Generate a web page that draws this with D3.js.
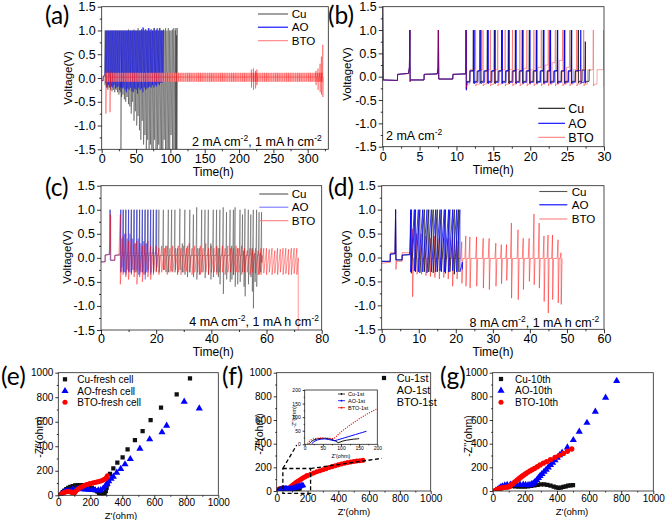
<!DOCTYPE html>
<html><head><meta charset="utf-8">
<script src="https://cdn.jsdelivr.net/npm/d3@7"></script>
<style>body{margin:0;background:#fff}svg{display:block}</style>
</head><body>
<script>
// ---------------- DATA ----------------
const seriesNames = ["Cu","AO","BTO"];
const vTicks = [-1.5,-1.0,-0.5,0,0.5,1.0,1.5];
const vMinor = [-1.25,-0.75,-0.25,0.25,0.75,1.25];
const zTicks = [0,200,400,600,800,1000];
const zMinor = [100,300,500,700,900];
const insetTicks = [0,50,100,150,200];

// (a) 2 mA cm-2, 1 mAh cm-2 : cycles [time h, upper V, lower V]
const aPre = [[0,-0.05],[2,-0.06],[2.3,0.04],[4.5,0.05]];
const aCu = [[5,1.0,-0.15],[7,1.0,-0.2],[9,1.0,-0.25],[11,1.0,-0.2],[13,1.0,-0.25],[15,1.0,-0.28],[17,1.0,-0.25],[19,1.0,-0.3],[21,1.0,-0.25],[23,1.0,-0.3],[25,1.0,-0.35],[27,1.0,-0.3],[28,0.1,-1.5],[29,1.0,-0.4],[31,1.0,-0.35],[33,1.0,-0.45],[35,1.0,-0.5],[37,1.0,-0.4],[39,1.02,-0.55],[41,1.0,-0.6],[43,1.0,-0.75],[45,1.0,-0.5],[47,1.02,-0.9],[49,1.0,-0.7],[51,1.0,-1.0],[53,1.05,-0.8],[55,1.0,-1.1],[57,1.0,-1.3],[59,1.0,-0.9],[61,1.05,-1.4],[63,1.0,-1.2],[65,1.0,-1.5],[67,1.0,-1.3],[69,1.05,-1.5],[71,1.0,-1.4],[73,1.0,-1.5],[75,1.0,-1.5],[77,1.05,-1.3],[79,1.0,-1.5],[81,1.05,-1.5],[83,1.0,-1.4],[85,1.05,-1.5],[87,1.0,-1.5],[89,1.0,-1.5],[91,1.0,-1.3],[93,1.05,-1.5],[95,1.0,-1.5],[97,1.05,-1.5],[99,1.0,-1.5],[101,1.0,-1.2],[103,1.02,-1.5],[105,1.05,-1.5],[107,1.0,-1.5],[108,1.05,-1.5],[109,0.9,-1.5],[110,1.05,-1.5]];
const aAO = [[6,1.0,-0.1],[8,1.0,-0.2],[10,1.0,-0.15],[12,1.0,-0.2],[14,1.0,-0.18],[16,1.0,-0.2],[18,1.0,-0.15],[20,1.0,-0.22],[22,1.0,-0.2],[24,1.0,-0.18],[26,1.0,-0.25],[28,1.0,-0.2],[30,1.0,-0.22],[32,1.0,-0.2],[34,1.0,-0.25],[36,1.0,-0.3],[38,1.0,-0.22],[40,1.0,-0.25],[42,1.0,-0.2],[44,1.0,-0.28],[46,1.0,-0.3],[48,1.0,-0.22],[50,1.0,-0.25],[52,1.0,-0.33],[54,1.0,-0.2],[56,1.0,-0.25],[58,1.03,-0.22],[60,1.07,-0.3],[62,1.0,-0.2],[64,1.03,-0.25],[66,1.0,-0.22],[68,1.05,-0.2],[70,1.0,-0.18],[72,1.03,-0.2],[74,1.0,-0.15],[76,1.05,-0.2],[78,1.0,-0.15],[80,1.02,-0.18],[82,1.0,-0.12],[84,1.05,-0.15],[86,1.0,-0.1],[88,1.0,-0.1],[90,1.02,-0.05]];
const aBTOBand = [[4.5,322,-0.08,0.11]]; // [start h, end h, lower V, upper V]
const aBTOBase = 0.02;
const aBTO = [[6,0.15,-0.75],[12,0.15,-0.72],[218,0.18,-0.2],[221,0.2,-0.25],[224,0.15,-0.22],[226,0.18,-0.15],[312,0.15,-0.15],[315,0.2,-0.25],[318,0.3,-0.3],[320,0.45,-0.35],[322,0.7,-0.4]];

// (b) 2 mA cm-2 : formation steps, then cycles [spike h, spike V, dip V, plateau-before V]
const bPre = [[0,1.55],[0.05,-0.07],[2.0,-0.08],[2.02,0.05],[3.5,0.07],[3.62,0.2],[3.68,1.0],[3.72,-0.1],[3.8,-0.07],[5.6,-0.07],[5.62,0.05],[7.4,0.06],[7.5,0.2],[7.55,1.0],[7.6,-0.05],[9.5,-0.05],[9.52,0.05],[11.2,0.06]];
const bPlateHours = 0.5;
const bLow = {Cu:-0.1, AO:-0.12, BTO:-0.16};
const bCu = [[11.3,1.0,-0.27,0.06],[12.29,1.0,-0.14,0.12],[13.19,1.0,-0.14,0.12],[14.19,1.0,-0.14,0.12],[15.14,1.0,-0.14,0.12],[16.13,1.0,-0.14,0.12],[17.04,1.0,-0.14,0.12],[17.99,1.0,-0.14,0.12],[18.93,1.0,-0.14,0.12],[19.88,1.0,-0.14,0.12],[20.83,1.0,-0.14,0.12],[21.78,1.0,-0.14,0.12],[22.68,1.0,-0.14,0.12],[23.68,1.0,-0.14,0.12],[24.62,1.0,-0.14,0.12],[25.57,1.0,-0.14,0.12],[26.52,1.0,-0.14,0.12],[27.47,0.75,-0.14,0.14]];
const bAO = [[11.32,1.0,-0.29,0.06],[12.4,1.0,-0.15,0.13],[13.32,1.0,-0.15,0.13],[14.3,1.0,-0.15,0.13],[15.25,1.0,-0.15,0.13],[16.22,1.0,-0.15,0.13],[17.15,1.0,-0.15,0.13],[18.08,1.0,-0.15,0.13],[19.02,1.0,-0.15,0.13],[19.96,1.0,-0.15,0.13],[20.9,1.0,-0.15,0.13],[21.85,1.0,-0.15,0.13],[22.76,1.0,-0.15,0.13],[23.72,1.0,-0.15,0.13],[24.68,1.0,-0.15,0.13],[25.62,1.0,-0.15,0.13],[26.85,1.0,-0.15,0.13]];
const bBTO = [[11.3,1.0,-0.25,0.06],[12.6,1.0,-0.2,0.15],[13.6,1.0,-0.2,0.15],[14.6,1.0,-0.2,0.15],[15.6,1.0,-0.2,0.15],[16.6,1.0,-0.2,0.15],[17.6,1.0,-0.2,0.15],[18.6,1.0,-0.2,0.15],[19.55,1.0,-0.2,0.18],[20.5,1.0,-0.2,0.15],[21.5,1.0,-0.2,0.2],[22.45,1.0,-0.2,0.25],[23.4,1.0,-0.2,0.3],[24.4,1.0,-0.2,0.35],[25.35,1.0,-0.2,0.2],[26.3,1.0,-0.2,0.15],[27.25,1.0,-0.2,0.15],[28.55,1.0,-0.2,0.15],[29.98,1.0,-0.2,0.15]];

// (c) 4 mA cm-2 : cycles [h, upper V, lower V]
const cPre = [[0,-0.08],[1.5,-0.08],[1.52,0.06],[3.0,0.07],[3.15,0.3],[3.3,1.0],[3.4,-0.05],[5.0,-0.05],[5.02,0.05],[6.5,0.06]];
const cPreBTO = [[0,-0.1],[1.5,-0.08],[1.52,0.06],[3.2,0.07],[3.4,0.3],[3.5,0.9],[3.6,-0.05],[5.0,-0.05],[5.02,0.05],[6.5,0.06]];
const cBase = {Cu:0.05, AO:0.1};
const cCu = [[7.2,1.0,-0.3],[8.1,1.0,-0.3],[9.0,1.0,-0.3],[10,1.0,-0.28],[11,1.0,-0.3],[12,1.0,-0.25],[13,1.0,-0.3],[14,1.0,-0.28],[15,1.0,-0.3],[16,1.0,-0.32],[17,1.0,-0.25],[18,1.0,-0.3],[19,1.0,-0.3],[20,1.0,-0.28],[21,1.0,-0.3],[22.6,1.0,-0.25],[23.5,0.25,-0.3],[24.4,1.0,-0.3],[25.6,1.0,-0.28],[26.8,1.0,-0.3],[27.7,0.2,-0.35],[28.6,1.02,-0.25],[29.5,0.3,-0.3],[30.4,1.0,-0.35],[31.3,0.25,-0.4],[32.2,1.0,-0.3],[33.5,0.9,-0.4],[34.7,1.05,-0.45],[35.6,0.2,-0.35],[36.5,1.0,-0.3],[37.7,1.0,-0.42],[38.9,1.0,-0.35],[39.8,0.3,-0.45],[40.7,1.0,-0.4],[41.9,1.0,-0.3],[42.5,0.2,-0.4],[43.1,1.0,-0.55],[44.3,1.05,-0.75],[45.5,0.95,-0.45],[46.8,1.0,-0.5],[47.4,0.25,-0.45],[48.0,1.0,-0.35],[48.6,1.05,-0.6],[49.5,0.2,-0.55],[50.4,1.0,-0.5],[51.3,0.9,-0.3],[51.8,0.15,-0.6],[52.2,1.02,-0.8],[53.4,1.0,-0.55],[54.3,0.9,-0.4],[54.8,0.2,-0.7],[55.2,1.0,-1.05],[55.8,0.1,-0.5],[56.4,1.0,-0.6],[57.3,0.95,-0.35],[57.8,0.1,-0.3],[58.2,0.95,-0.1]];
const cAO = [[7.1,1.0,-0.3],[7.6,0.4,-0.2],[8,1.0,-0.28],[8.5,0.5,-0.3],[9,1.0,-0.35],[9.5,0.4,-0.25],[10,1.0,-0.3],[10.5,0.5,-0.3],[11,1.0,-0.32],[11.5,0.4,-0.25],[12,1.0,-0.3],[12.5,0.3,-0.3],[13,1.0,-0.25],[13.5,0.4,-0.35],[14,1.0,-0.35],[14.5,0.3,-0.3],[15,1.0,-0.3],[15.5,0.35,-0.35],[16,1.0,-0.45],[16.5,0.3,-0.3],[17,1.0,-0.3],[18,1.0,-0.35],[19,1.0,-0.3],[20.2,1.0,-0.2]];
const cBTO = [[7,0.9,-0.55],[8,0.45,-0.35],[9,0.5,-0.4],[10,0.35,-0.45],[11,0.4,-0.35],[12,0.3,-0.4],[13,0.35,-0.55],[14,0.3,-0.4],[15,0.25,-0.5],[16,0.3,-0.35],[17,0.35,-0.4],[18,0.25,-0.45],[19,0.2,-0.35],[20,0.25,-0.3],[21,0.2,-0.35],[22,0.25,-0.3],[23,0.2,-0.25],[24,0.25,-0.35],[25,0.2,-0.3],[26,0.25,-0.3],[27,0.2,-0.25],[28,0.25,-0.3],[29,0.2,-0.35],[30,0.25,-0.3],[31,0.2,-0.28],[32,0.3,-0.3],[33,0.2,-0.35],[34,0.25,-0.3],[35,0.2,-0.3],[36,0.25,-0.35],[37,0.2,-0.3],[38,0.3,-0.3],[39,0.2,-0.35],[40,0.25,-0.3],[41,0.2,-0.3],[42,0.25,-0.35],[43,0.2,-0.3],[44,0.25,-0.3],[45,0.2,-0.35],[46,0.25,-0.3],[47,0.2,-0.3],[48,0.2,-0.35],[49,0.25,-0.3],[50,0.2,-0.3],[51,0.25,-0.35],[52,0.2,-0.3],[53,0.15,-0.3],[54,0.2,-0.35],[55,0.15,-0.3],[56,0.2,-0.32],[57,0.15,-0.35],[58,0.2,-0.35],[59,0.2,-0.32],[60,0.2,-0.35],[61,0.18,-0.3],[62,0.2,-0.35],[63,0.15,-0.32],[64,0.2,-0.35],[65,0.18,-0.3],[66,0.2,-0.35],[67,0.2,-0.33],[68,0.18,-0.35],[69,0.2,-0.35],[70,0.2,-0.33],[71,0.2,-0.35],[71.5,0.0,-1.6]];

// (d) 8 mA cm-2
const dPre = [[0,-0.08],[2.3,-0.08],[2.32,0.07],[3.6,0.08],[3.75,1.0],[3.85,-0.05],[5.5,-0.05],[5.52,0.05],[7.6,0.06]];
const dPreBTO = [[0,-0.12],[2.3,-0.1],[2.32,0.1],[3.6,0.1],[3.75,0.75],[3.85,-0.25],[4.0,-0.08],[5.5,-0.08],[5.52,0.1],[7.6,0.1]];
const dAO = [[7.82,1.0,-0.3],[8.81,1.0,-0.28],[9.89,1.0,-0.3],[11.06,1.0,-0.3],[12.23,1.0,-0.32],[13.4,1.0,-0.3],[14.57,1.0,-0.3],[15.73,1.0,-0.28],[16.9,1.0,-0.3],[18.07,1.0,-0.3],[19.15,1.0,-0.28],[20.24,1.0,-0.3],[21.1,1.0,-0.3],[21.8,-0.1,-0.25]];
const dCu = [[8.0,1.0,-0.33],[9.1,1.0,-0.3],[10.3,1.0,-0.32],[11.5,1.0,-0.3],[12.7,1.0,-0.3],[13.9,1.0,-0.32],[15.0,1.0,-0.3],[16.1,1.0,-0.3],[17.2,1.0,-0.33],[18.4,1.0,-0.3],[19.6,1.0,-0.35],[20.7,1.0,-0.3]];
const dBTOBase = -0.02;
const dBTO = [[8.3,0.6,-0.82],[9.5,0.5,-0.35],[10.7,0.5,-0.35],[11.9,0.45,-0.38],[13.1,0.4,-0.4],[14.3,0.45,-0.42],[15.5,0.4,-0.45],[16.7,0.4,-0.42],[17.9,0.4,-0.45],[19.1,0.4,-0.6],[20.3,0.35,-0.45],[21.6,0.33,-0.54],[22.7,0.45,-0.6],[23.8,0.43,-0.64],[25.6,0.43,-0.6],[27.4,0.4,-0.64],[29.0,0.4,-0.67],[30.8,0.3,-0.6],[32.3,0.27,-0.55],[33.7,0.27,-0.48],[35.0,0.72,-0.85],[36.8,0.58,-0.88],[38.2,0.4,-0.67],[39.8,0.4,-0.5],[41.1,0.91,-0.57],[42.5,0.72,-0.64],[43.8,0.45,-0.92],[44.9,0.47,-1.16],[46.1,0.47,-0.88],[47.6,0.37,-0.95],[48.4,0.1,-0.98]];

// (e) fresh cells [Z', -Z''] ohm
const eCu = [[15,2],[20,12],[28,25],[38,38],[50,50],[62,60],[75,68],[90,75],[105,80],[120,83],[135,84],[150,83],[165,80],[180,75],[195,68],[210,60],[222,50],[234,40],[245,30],[255,20],[262,12],[270,8],[280,10],[290,18],[297,35],[302,60],[308,90],[315,120],[323,174],[344,220],[369,266],[402,310],[433,375],[479,451],[527,524],[577,614],[642,715],[740,823],[823,954]];
const eAO = [[15,2],[25,15],[40,27],[55,36],[70,42],[90,47],[110,50],[130,51],[150,50],[170,48],[190,46],[210,44],[230,42],[250,40],[265,42],[280,55],[293,75],[305,95],[315,115],[330,135],[344,152],[365,185],[390,215],[417,253],[450,296],[510,380],[571,457],[648,514],[677,568],[787,764],[881,709]];
const eBTO = [[5,2],[15,8],[25,15],[35,22],[45,27],[55,30],[65,31],[75,28],[85,22],[95,16],[102,20],[110,35],[120,48],[130,57],[140,64],[150,72],[160,78],[170,84],[180,88],[190,92],[200,96],[210,99],[220,102],[230,105],[240,108],[250,111],[260,114],[270,118],[280,124],[290,130],[298,138],[303,148],[307,160]];

// (f) 1st cycle
const fCu = [[12,2],[18,10],[25,16],[35,20],[45,22],[55,22],[65,21],[75,18],[85,12],[92,6],[97,8],[105,12],[115,15],[125,17],[135,19],[145,20],[150,21]];
const fAO = [[20,2],[25,10],[35,16],[45,19],[55,20],[65,18],[75,15],[82,13],[90,16],[100,20],[110,24],[120,28],[130,32],[140,36],[150,40],[160,44],[170,48]];
const fBTO = [[8,2],[12,10],[17,16],[24,20],[32,22],[42,23],[52,23],[62,23],[72,22],[80,21],[85,26],[90,33],[97,42],[105,51],[115,61],[125,71],[135,80],[145,89],[155,98],[165,106],[175,114],[185,121],[195,128],[200,131],[220,142],[240,152],[260,162],[280,171],[300,180],[320,189],[340,198],[360,206],[380,214],[400,221],[420,228],[440,234],[460,240],[480,245],[500,249],[520,253],[540,256],[560,259]];
const fZoomBox = [40,220,-20,190];            // Z' from, Z' to, -Z'' from, -Z'' to
const fConnectors = [[[40,190],[130,389]],[[220,190],[682,276]]];

// (g) 10th cycle
const gCu = [[20,5],[30,12],[45,22],[60,30],[80,36],[100,40],[120,42],[140,40],[160,38],[180,36],[200,37],[220,40],[240,44],[260,48],[280,52],[300,55],[320,55],[340,52],[360,46],[380,38],[395,30],[410,26],[425,28],[440,34],[455,40],[470,45],[485,48],[500,50]];
const gAO = [[20,3],[30,12],[40,22],[50,32],[60,40],[75,47],[90,51],[110,54],[130,56],[150,56],[170,55],[190,53],[205,51],[220,50],[232,51],[243,58],[253,65],[263,78],[274,93],[285,110],[295,127],[307,145],[320,163],[333,181],[346,200],[360,220],[373,239],[388,260],[402,282],[417,303],[432,324],[465,369],[502,431],[539,501],[587,577],[639,670],[703,789],[772,930]];
const gBTO = [[15,3],[25,10],[35,17],[45,22],[55,26],[65,29],[75,31],[85,32],[95,33],[105,38],[115,50],[125,62],[135,73],[145,84],[155,95],[165,106],[175,117],[185,127],[195,137],[205,146],[218,158],[232,170],[246,180],[260,191],[278,205],[295,220],[315,235],[336,248],[360,265],[388,285],[414,302],[440,318],[465,336],[492,355]];

// ---------------- DRAWING ----------------
const FONT = "'Liberation Sans', Arial, sans-serif";
const LABFONT = "Lato, 'Open Sans', sans-serif";
const svg = d3.select("body").append("svg").attr("width",667).attr("height",520)
  .style("font-family",FONT);
const defs = svg.append("defs");
svg.append("rect").attr("width",667).attr("height",520).attr("fill","#fff");

let clipN = 0;
function panel(o){
  const x = d3.scaleLinear().domain(o.xd).range([o.l,o.r]);
  const y = d3.scaleLinear().domain(o.yd).range([o.b,o.t]);
  const g = svg.append("g");
  const id = "clip"+(clipN++);
  defs.append("clipPath").attr("id",id).append("rect")
    .attr("x",o.l).attr("y",o.t).attr("width",o.r-o.l).attr("height",o.b-o.t);
  const plot = g.append("g").attr("clip-path",`url(#${id})`);
  const over = g.append("g");
  return {x,y,g,plot,over,o};
}
function axes(P, xt, xm, xf, yt, ym, yf, fs, tl, pad){
  const o=P.o, g=P.over;
  tl = tl||4; pad = (pad===undefined)?1.5:pad;
  g.append("rect").attr("x",o.l).attr("y",o.t).attr("width",o.r-o.l).attr("height",o.b-o.t)
    .attr("fill","none").attr("stroke","#222").attr("stroke-width",0.8);
  const gx = g.append("g").attr("transform",`translate(0,${o.b})`);
  gx.call(d3.axisBottom(P.x).tickValues(xt).tickSize(tl).tickPadding(pad).tickFormat(xf));
  const gxm = g.append("g").attr("transform",`translate(0,${o.b})`);
  gxm.call(d3.axisBottom(P.x).tickValues(xm).tickSize(tl/2).tickFormat(""));
  const gy = g.append("g").attr("transform",`translate(${o.l},0)`);
  gy.call(d3.axisLeft(P.y).tickValues(yt).tickSize(tl).tickPadding(2).tickFormat(yf));
  const gym = g.append("g").attr("transform",`translate(${o.l},0)`);
  gym.call(d3.axisLeft(P.y).tickValues(ym).tickSize(tl/2).tickFormat(""));
  [gx,gxm,gy,gym].forEach(a=>{a.select(".domain").remove();
    a.selectAll("text").attr("font-size",fs).attr("font-family",FONT).attr("fill","#000");
    a.selectAll("line").attr("stroke","#000").attr("stroke-width",0.8);});
}
function txt(x,y,s,opt){
  opt=opt||{};
  const t = svg.append("text").attr("x",x).attr("y",y).text(s)
    .attr("font-size",opt.fs||11).attr("fill",opt.fill||"#000")
    .attr("text-anchor",opt.anchor||"start").attr("font-family",opt.ff||FONT);
  if(opt.rot) t.attr("transform",`rotate(-90,${x},${y})`);
  return t;
}
function unitText(x,y,parts,fs,anchor){
  const t = svg.append("text").attr("x",x).attr("y",y).attr("font-size",fs)
    .attr("text-anchor",anchor||"start").attr("fill","#000");
  let sup=false;
  parts.forEach(p=>{
    const ts = t.append("tspan").text(p[0]);
    if(p[1] && !sup){ts.attr("dy",-fs*0.38).attr("font-size",fs*0.68);sup=true;}
    else if(!p[1] && sup){ts.attr("dy",fs*0.38);sup=false;}
    else if(p[1]) ts.attr("font-size",fs*0.68);
  });
  return t;
}
const line = (P)=>d3.line().x(d=>P.x(d[0])).y(d=>P.y(d[1]));
function zig(pre, cycles){
  const pts = pre ? pre.slice() : [];
  cycles.forEach(c=>{pts.push([c[0],c[1]]);pts.push([c[0],c[2]]);});
  return pts;
}
function stepWave(pre, cycles, low, plate){
  const pts = pre.slice();
  cycles.forEach((c,i)=>{
    const [t,top,dip,high]=c;
    pts.push([t-0.04,high]); pts.push([t,top]); pts.push([t+0.03,dip]); pts.push([t+0.12,low]);
    pts.push([t+plate,low]);
    const nh = cycles[i+1] ? cycles[i+1][3] : high;
    pts.push([t+plate+0.02,nh]);
    if(!cycles[i+1]) pts.push([t+plate+0.2,nh]);
  });
  return pts;
}
function spikesBase(pre, cycles, base, w){
  const pts = pre.slice();
  cycles.forEach(c=>{
    pts.push([c[0]-w,base]); pts.push([c[0],c[1]]); pts.push([c[0]+w*0.2,c[2]]); pts.push([c[0]+w*1.2,base]);
  });
  return pts;
}
function drawPath(P, pts, color, w, op){
  P.plot.append("path").datum(pts).attr("d",line(P)).attr("fill","none")
    .attr("stroke",color).attr("stroke-width",w).attr("stroke-opacity",op).attr("stroke-linejoin","round");
}
function legendLines(items, x1, x2, tx, fs){
  items.forEach(it=>{
    svg.append("line").attr("x1",x1).attr("x2",x2).attr("y1",it.y).attr("y2",it.y)
      .attr("stroke",it.c).attr("stroke-width",1.1).attr("stroke-opacity",it.op||1);
    txt(tx,it.y+fs*0.36,it.name,{fs:fs});
  });
}
const vf = d=>d.toFixed(1);
const COL = {Cu:"#111", AO:"#0000ff", BTO:"#ff0000"};
const LEGFS = 11.6;

// stripe pattern for dense red band in (a)
const pat = defs.append("pattern").attr("id","redStripes").attr("patternUnits","userSpaceOnUse")
  .attr("width",2.2).attr("height",20);
pat.append("rect").attr("width",2.2).attr("height",20).attr("fill","#ff9a9a");
pat.append("rect").attr("width",1).attr("height",20).attr("fill","#ff2a2a");

// ---- (a)
const A = panel({l:101.7,r:328.3,t:6.7,b:149.3,xd:[0,330],yd:[-1.5,1.5]});
drawPath(A, zig(aPre,aCu), "#1a1a1a", 0.55, 0.75);
drawPath(A, zig(aPre,aAO), COL.AO, 0.55, 0.85);
aBTOBand.forEach(bd=>{
  A.plot.append("rect").attr("x",A.x(bd[0])).attr("width",A.x(bd[1])-A.x(bd[0]))
    .attr("y",A.y(bd[3])).attr("height",A.y(bd[2])-A.y(bd[3]))
    .attr("fill","url(#redStripes)").attr("opacity",0.75);
});
drawPath(A, spikesBase(aPre,aBTO,aBTOBase,0.6), COL.BTO, 0.7, 0.55);
axes(A,[0,50,100,150,200,250,300],[25,75,125,175,225,275,325],d3.format("d"),vTicks,vMinor,vf,12.5,4,1);
legendLines([{y:14,c:"#555",name:"Cu"},{y:27.2,c:COL.AO,name:"AO"},{y:40.7,c:"#ff8080",name:"BTO"}],258,288,291.7,LEGFS);
unitText(321.7,146,[["2 mA cm"],["-2",1],[", 1 mA h cm"],["-2",1]],12.5,"end");
txt(71.7,78,"Voltage(V)",{fs:11.5,rot:true,anchor:"middle"});
txt(213.3,176,"Time(h)",{fs:12,anchor:"middle"});
txt(45,24,"(a)",{fs:24.5,ff:LABFONT});

// ---- (b)
const B = panel({l:382.7,r:604,t:6.7,b:146.7,xd:[0,30],yd:[-1.5,1.5]});
drawPath(B, stepWave(bPre,bCu,bLow.Cu,bPlateHours), COL.Cu, 0.9, 0.9);
drawPath(B, stepWave(bPre,bAO,bLow.AO,bPlateHours), COL.AO, 0.9, 0.85);
drawPath(B, stepWave(bPre,bBTO,bLow.BTO,bPlateHours), COL.BTO, 0.9, 0.4);
axes(B,[0,5,10,15,20,25,30],[2.5,7.5,12.5,17.5,22.5,27.5],d3.format("d"),vTicks,vMinor,vf,12.5,4,1);
legendLines([{y:108.3,c:"#111",name:"Cu"},{y:123.3,c:COL.AO,name:"AO"},{y:137.3,c:"#ff8080",name:"BTO"}],538.3,565,568.3,12.5);
unitText(386,140,[["2 mA cm"],["-2",1]],12.5,"start");
txt(350.5,74,"Voltage(V)",{fs:11.5,rot:true,anchor:"middle"});
txt(493.3,174,"Time(h)",{fs:12,anchor:"middle"});
txt(328,24,"(b)",{fs:24.5,ff:LABFONT});

// ---- (c)
const C = panel({l:101,r:321.7,t:185.7,b:330,xd:[0,80],yd:[-1.5,1.5]});
drawPath(C, spikesBase(cPre,cCu,cBase.Cu,0.25), "#2a2a2a", 0.6, 0.7);
drawPath(C, spikesBase(cPre,cAO,cBase.AO,0.12), "#3a3aff", 0.6, 0.75);
drawPath(C, zig(cPreBTO,cBTO), COL.BTO, 0.6, 0.7);
axes(C,[0,20,40,60,80],[10,30,50,70],d3.format("d"),vTicks,vMinor,vf,12.5,4,0.5);
legendLines([{y:194,c:"#555",name:"Cu"},{y:207.2,c:"#7777ff",name:"AO"},{y:220.7,c:"#ff8080",name:"BTO"}],259.3,288.3,291.7,LEGFS);
unitText(319,326,[["4 mA cm"],["-2",1],[", 1 mA h cm"],["-2",1]],12.5,"end");
txt(70.5,257,"Voltage(V)",{fs:11.5,rot:true,anchor:"middle"});
txt(213.3,356,"Time(h)",{fs:12,anchor:"middle"});
txt(45,196,"(c)",{fs:24.5,ff:LABFONT});

// ---- (d)
const D = panel({l:381.7,r:604,t:185.7,b:329.3,xd:[0,60],yd:[-1.5,1.5]});
drawPath(D, spikesBase(dPreBTO,dBTO,dBTOBase,0.25), COL.BTO, 0.7, 0.65);
drawPath(D, zig(dPre,dCu), "#111", 0.9, 0.85);
drawPath(D, zig(dPre,dAO), COL.AO, 0.9, 0.85);
axes(D,[0,10,20,30,40,50,60],[5,15,25,35,45,55],d3.format("d"),vTicks,vMinor,vf,12.5,4,0.5);
legendLines([{y:191.5,c:"#555",name:"Cu"},{y:204.8,c:COL.AO,name:"AO"},{y:219,c:"#ff8080",name:"BTO"}],539.3,567.3,571.7,LEGFS);
unitText(599.3,326.5,[["8 mA cm"],["-2",1],[", 1 mA h cm"],["-2",1]],12.5,"end");
txt(350,257,"Voltage(V)",{fs:11.5,rot:true,anchor:"middle"});
txt(493,356,"Time(h)",{fs:12,anchor:"middle"});
txt(328,196,"(d)",{fs:24.5,ff:LABFONT});

// ---- EIS helpers
const sym = {
  Cu: d3.symbol().type(d3.symbolSquare).size(18),
  AO: d3.symbol().type(d3.symbolTriangle).size(22),
  BTO: d3.symbol().type(d3.symbolCircle).size(20)
};
function markers(P, data, kind, color, size){
  const s = d3.symbol().type(kind==="Cu"?d3.symbolSquare:kind==="AO"?d3.symbolTriangle:d3.symbolCircle).size(size);
  P.plot.append("g").selectAll("path").data(data).join("path")
    .attr("d",s).attr("transform",d=>`translate(${P.x(d[0])},${P.y(d[1])})`).attr("fill",color);
}
function eisLegend(mx, tx, ys, names, fs, show){
  names.forEach((n,i)=>{
    if(show[i]) svg.append("path").attr("d",sym[seriesNames[i]]())
      .attr("transform",`translate(${mx},${ys[i]})`).attr("fill",[COL.Cu,COL.AO,COL.BTO][i]);
    txt(tx,ys[i]+fs*0.36,n,{fs:fs});
  });
}
const zf = d3.format("d");

// ---- (e)
const E = panel({l:58.3,r:218.3,t:372.7,b:495.3,xd:[0,1000],yd:[0,1000]});
markers(E,eCu,"Cu",COL.Cu,18);
markers(E,eAO,"AO",COL.AO,22);
markers(E,eBTO,"BTO",COL.BTO,20);
axes(E,zTicks,zMinor,zf,zTicks,zMinor,zf,10,3,0.5);
eisLegend(65,77.3,[379.3,391,402.3],["Cu-fresh cell","AO-fresh cell","BTO-fresh cell"],10,[1,1,1]);
txt(43,437,"-Z''(ohm)",{fs:10.5,rot:true,anchor:"middle"});
txt(121,518.8,"Z'(ohm)",{fs:9.5,anchor:"middle"});
txt(1,385,"(e)",{fs:24.5,ff:LABFONT});

// ---- (f)
const F = panel({l:276.7,r:430.7,t:372.7,b:491,xd:[0,1000],yd:[0,1000]});
markers(F,fBTO,"BTO",COL.BTO,20);
markers(F,fCu,"Cu",COL.Cu,16);
markers(F,fAO,"AO",COL.AO,20);
axes(F,zTicks,zMinor,zf,zTicks,zMinor,zf,10,3,0.5);
const dash = F.over.append("g").attr("fill","none").attr("stroke","#000").attr("stroke-width",1.3).attr("stroke-dasharray","4,2.5");
dash.append("rect").attr("x",F.x(fZoomBox[0])).attr("y",F.y(fZoomBox[3]))
  .attr("width",F.x(fZoomBox[1])-F.x(fZoomBox[0])).attr("height",F.y(fZoomBox[2])-F.y(fZoomBox[3]));
fConnectors.forEach(c=>dash.append("line").attr("x1",F.x(c[0][0])).attr("y1",F.y(c[0][1]))
  .attr("x2",F.x(c[1][0])).attr("y2",F.y(c[1][1])));
eisLegend(384,396.7,[378,390.2,402.4],["Cu-1st","AO-1st","BTO-1st"],10.8,[1,0,0]);
txt(263,434,"-Z''(ohm)",{fs:10.5,rot:true,anchor:"middle"});
txt(354,514.5,"Z'(ohm)",{fs:9.5,anchor:"middle"});
txt(222,385,"(f)",{fs:24.5,ff:LABFONT});

// inset of (f)
const I = panel({l:304.7,r:377.3,t:390,b:444.3,xd:[0,200],yd:[0,200]});
I.plot.append("rect").attr("x",304.7).attr("y",390).attr("width",72.6).attr("height",54.3).attr("fill","#fff");
drawPath(I, fCu, COL.Cu, 1, 1);
drawPath(I, fAO, COL.AO, 1, 1);
I.plot.append("path").datum(fBTO).attr("d",line(I)).attr("fill","none").attr("stroke",COL.BTO)
  .attr("stroke-width",1.1).attr("stroke-dasharray","1.1,1.3");
axes(I,insetTicks,[25,75,125,175],zf,insetTicks,[25,75,125,175],zf,5,2,0.5);
[["Cu-1st",COL.Cu,394],["AO-1st",COL.AO,400.7],["BTO-1st",COL.BTO,407.7]].forEach(d=>{
  svg.append("line").attr("x1",338).attr("x2",345).attr("y1",d[2]).attr("y2",d[2]).attr("stroke",d[1]).attr("stroke-width",0.8);
  svg.append("circle").attr("cx",341.5).attr("cy",d[2]).attr("r",0.9).attr("fill",d[1]);
  txt(348,d[2]+2,d[0],{fs:5.5});
});
txt(296,417,"-Z''(ohm)",{fs:5.5,rot:true,anchor:"middle"});
txt(341,457.5,"Z'(ohm)",{fs:5.5,anchor:"middle"});

// ---- (g)
const G = panel({l:492.7,r:653.3,t:372.7,b:491,xd:[0,1000],yd:[0,1000]});
markers(G,gCu,"Cu",COL.Cu,18);
markers(G,gAO,"AO",COL.AO,22);
markers(G,gBTO,"BTO",COL.BTO,22);
axes(G,zTicks,zMinor,zf,zTicks,zMinor,zf,10,3,0.5);
eisLegend(501,515,[379,390.7,402.3],["Cu-10th","AO-10th","BTO-10th"],10,[1,1,1]);
txt(472,436,"-Z''(ohm)",{fs:10.5,rot:true,anchor:"middle"});
txt(572,514.5,"Z'(ohm)",{fs:9.5,anchor:"middle"});
txt(440,385,"(g)",{fs:24.5,ff:LABFONT});
</script>
</body></html>
